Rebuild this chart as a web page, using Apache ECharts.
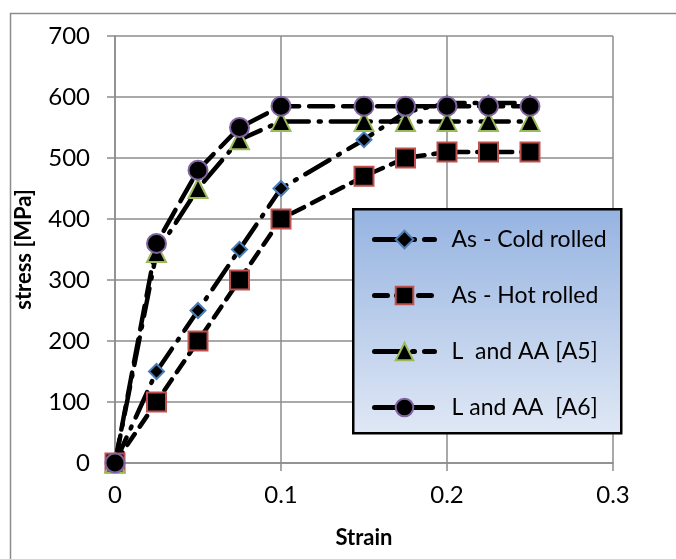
<!DOCTYPE html>
<html><head><meta charset="utf-8">
<script src="https://cdn.jsdelivr.net/npm/echarts@6/dist/echarts.min.js"></script>
<style>html,body{margin:0;padding:0;background:#fff}#c{width:676px;height:559px}</style>
</head><body><div id="c"></div>
<script>
const strain = [0, 0.025, 0.05, 0.075, 0.1, 0.15, 0.175, 0.2, 0.225, 0.25];
const coldRolled = [0, 150, 250, 350, 450, 530, 575, 590, 590, 590];
const hotRolled = [0, 100, 200, 300, 400, 470, 500, 510, 510, 510];
const laaA5 = [0, 345, 450, 530, 560, 560, 560, 560, 560, 560];
const laaA6 = [0, 360, 480, 550, 585, 585, 585, 585, 585, 585];
const seriesNames = ['As - Cold rolled', 'As - Hot rolled', 'L  and AA [A5]', 'L and AA  [A6]'];
const xTicks = ['0', '0.1', '0.2', '0.3'];
const yTicks = ['0','100','200','300','400','500','600','700'];

const FONT = 'Lato';
const pair = arr => strain.map((x, i) => [x, arr[i]]);
const mk = (name, data, symbol, size, border, dash) => ({
  name, type: 'line', data: pair(data), symbol, symbolSize: size,
  itemStyle: { color: '#000', borderColor: border, borderWidth: 2 },
  lineStyle: { color: '#000', width: 4.5, type: dash, cap: 'round' },
  emphasis: { disabled: true }, animation: false
});

const chart = echarts.init(document.getElementById('c'));
chart.setOption({
  animation: false,
  backgroundColor: '#fff',
  grid: { left: 115, top: 36, right: 63, bottom: 96 },
  graphic: [
    { type: 'rect', left: 8, top: 11, shape: { width: 700, height: 600 },
      style: { fill: 'none', stroke: '#8c8c8c', lineWidth: 1.5 }, z: 0 },
    { type: 'rect', left: 352, top: 208, shape: { width: 268, height: 224 }, z: 5,
      style: { stroke: '#000', lineWidth: 2.5,
        fill: new echarts.graphic.LinearGradient(0, 0, 0, 1, [
          { offset: 0, color: '#95b3e1' }, { offset: 1, color: '#e0e8f5' }]) } }
  ],
  legend: {
    orient: 'vertical', left: 367, top: 223, z: 6,
    itemWidth: 60, itemHeight: 22, itemGap: 33,
    data: seriesNames,
    lineStyle: { width: 5 },
    textStyle: { fontFamily: FONT, fontSize: 23, lineHeight: 22, color: '#000', padding: [0,0,0,12] }
  },
  xAxis: {
    type: 'value', min: 0, max: 0.3, interval: 0.1,
    name: 'Strain', nameLocation: 'middle', nameGap: 64,
    nameTextStyle: { fontFamily: FONT, fontSize: 22, fontWeight: 'bold', color: '#000' },
    axisLine: { show: true, onZero: false, lineStyle: { color: '#8c8c8c', width: 1.5 } },
    axisTick: { show: true, length: 8, lineStyle: { color: '#8c8c8c', width: 1.5 } },
    splitLine: { show: true, lineStyle: { color: '#8c8c8c', width: 1.5 } },
    axisLabel: { margin: 20, fontFamily: FONT, fontSize: 24, color: '#000',
      formatter: v => xTicks[Math.round(v * 10)] }
  },
  yAxis: {
    type: 'value', min: 0, max: 700, interval: 100,
    name: 'stress [MPa]', nameLocation: 'middle', nameGap: 80,
    nameTextStyle: { fontFamily: FONT, fontSize: 22, fontWeight: 'bold', color: '#000' },
    axisLine: { show: true, lineStyle: { color: '#8c8c8c', width: 1.5 } },
    axisTick: { show: true, length: 8, lineStyle: { color: '#8c8c8c', width: 1.5 } },
    splitLine: { show: true, lineStyle: { color: '#8c8c8c', width: 1.5 } },
    axisLabel: { margin: 25, fontFamily: FONT, fontSize: 24, color: '#000',
      formatter: v => yTicks[Math.round(v / 100)] }
  },
  series: [
    mk(seriesNames[0], coldRolled, 'diamond', 15, '#4a7ebb', [28, 10, 2, 10]),
    mk(seriesNames[1], hotRolled, 'rect', 19, '#c0504d', [13, 9]),
    mk(seriesNames[2], laaA5, 'triangle', 19, '#9bbb59', [28, 10, 2, 10]),
    mk(seriesNames[3], laaA6, 'circle', 19, '#8064a2', [24, 10])
  ]
});
</script></body></html>
